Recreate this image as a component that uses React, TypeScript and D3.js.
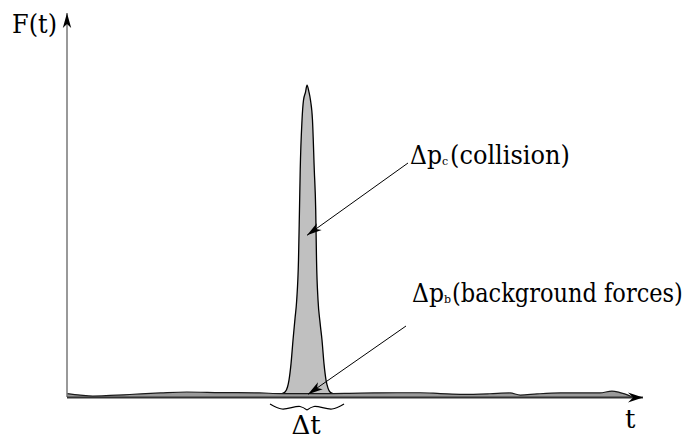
import React, { useLayoutEffect, useRef, useState } from "react";
import * as d3 from "d3";

// Background forces curve (t, F)
const bgT = [0, 2.3, 4.5, 7.5, 10.9, 16.2, 20.8, 26.6, 33.5, 37.3, 46.2, 49.0, 53.3, 57.3, 61.3, 64.8, 68.8, 73.4, 76.9, 78.7, 81.6, 85.6, 89.1, 92.5, 94.6, 96.0, 97.4, 98.1];
const bgF = [0.9, 0.5, 0.25, 0.4, 0.65, 1.05, 1.3, 1.15, 1.05, 0.9, 0.9, 0.95, 1.05, 1.1, 1.1, 0.9, 0.7, 0.85, 1.05, 0.5, 0.8, 1.05, 1.05, 1.05, 1.55, 1.15, 0.5, 0];

// Collision peak (t, F)
const peakT = [37.33, 37.85, 38.28, 38.54, 38.89, 39.24, 39.58, 39.88, 40.19, 40.36, 40.49, 40.8, 41.06, 41.41, 41.67, 42.01, 42.27, 42.62, 42.93, 43.18, 43.32, 43.58, 43.92, 44.27, 44.62, 44.97, 45.31, 45.66, 46.18];
const peakF = [0.9, 1.3, 2.6, 4.4, 8.6, 14.8, 20.3, 25.2, 35.6, 48.6, 59.0, 71.9, 77.1, 79.2, 81.0, 79.2, 77.1, 71.9, 59.0, 48.6, 35.6, 25.2, 19.5, 14.8, 8.6, 4.4, 2.3, 1.3, 0.9];

const axisLabels = ["F(t)", "t", "Δt"];
const collisionLabel = { main: "Δp", sub: "c", rest: "(collision)" };
const backgroundLabel = { main: "Δp", sub: "b", rest: "(background forces)" };

const W = 689;
const H = 439;

const font = "DejaVu Serif, serif";
const textStyle = { fontFamily: font, fontSize: 26, fill: "#000" } as React.CSSProperties;
const subStyle = { fontFamily: font, fontSize: 11, fill: "#000" } as React.CSSProperties;

function FitText({ x, y, width, style, children }: { x: number; y: number; width: number; style: React.CSSProperties; children: React.ReactNode }) {
  const ref = useRef<SVGTextElement>(null);
  const [s, setS] = useState(0.82);
  useLayoutEffect(() => {
    if (ref.current) {
      const len = ref.current.getComputedTextLength();
      if (len > 0) setS(width / len);
    }
  }, [width]);
  return (
    <g transform={`translate(${x},${y}) scale(${s},1)`}>
      <text ref={ref} x={0} y={0} style={style}>{children}</text>
    </g>
  );
}

function Label({ lx, ly, lab, restLen }: { lx: number; ly: number; lab: typeof collisionLabel; restLen: number }) {
  return (
    <g>
      <FitText x={lx} y={ly} width={32} style={textStyle}>{lab.main}</FitText>
      <text x={lx + 32} y={ly + 1} style={subStyle}>{lab.sub}</text>
      <FitText x={lx + 40} y={ly} width={restLen} style={textStyle}>{lab.rest}</FitText>
    </g>
  );
}

export default function App() {
  const x = d3.scaleLinear().domain([0, 100]).range([67, 643]);
  const y = d3.scaleLinear().domain([0, 100]).range([397, 12]);

  const bgData = bgT.map((t, i) => ({ t, f: bgF[i] }));
  const peakData = peakT.map((t, i) => ({ t, f: peakF[i] }));

  const area = d3
    .area<{ t: number; f: number }>()
    .x((d) => x(d.t))
    .y0(y(0))
    .y1((d) => y(d.f))
    .curve(d3.curveMonotoneX);
  const line = d3
    .line<{ t: number; f: number }>()
    .x((d) => x(d.t))
    .y((d) => y(d.f))
    .curve(d3.curveMonotoneX);

  const [x0, x1] = x.range();
  const [yb, yt] = y.range();

  const peakIdx = d3.maxIndex(peakF);
  const cx = x(peakT[peakIdx]);
  const b = yb + 7;
  const braceLine = d3.line<[number, number]>().curve(d3.curveCatmullRom.alpha(0.5));
  const leftHalf: [number, number][] = [
    [cx - 37, b],
    [cx - 25, b + 5],
    [cx - 7, b + 2.5],
    [cx, b + 6],
  ];
  const rightHalf: [number, number][] = leftHalf.map(([px, py]) => [2 * cx - px, py]);

  const collTip: [number, number] = [cx, y(42)];
  const collStart: [number, number] = [408, 163];
  const bgTip: [number, number] = [cx + 1, y(0.7)];
  const bgStart: [number, number] = [406, 326];

  return (
    <svg
      width={W}
      height={H}
      style={{ position: "absolute", left: 0, top: 0, display: "block", background: "#fff" }}
    >
      <defs>
        <marker id="ah" markerUnits="userSpaceOnUse" markerWidth={20} markerHeight={12}
          viewBox="-16 -6 17 12" refX={0} refY={0} orient="auto">
          <path d="M0,0 L-15,-4.2 L-11,0 L-15,4.2 Z" fill="#000" />
        </marker>
        <marker id="axh" markerUnits="userSpaceOnUse" markerWidth={20} markerHeight={14}
          viewBox="-16 -7 17 14" refX={0} refY={0} orient="auto">
          <path d="M0,0 L-15,-5 L-10,0 L-15,5 Z" fill="#000" />
        </marker>
      </defs>

      <path d={area(peakData) || ""} fill="#c0c0c0" stroke="none" />
      <path d={line(peakData) || ""} fill="none" stroke="#000" strokeWidth={1.3} />

      <path d={area(bgData) || ""} fill="#9a9a9a" stroke="none" />
      <path d={line(bgData) || ""} fill="none" stroke="#1a1a1a" strokeWidth={1.2} />

      <line x1={x0} y1={yb} x2={x0} y2={yt + 1} stroke="#777" strokeWidth={1.5} markerEnd="url(#ah)" />
      <line x1={x0} y1={yb + 0.5} x2={x1} y2={yb + 0.5} stroke="#333" strokeWidth={1.8} markerEnd="url(#axh)" />

      <path d={braceLine(leftHalf) || ""} fill="none" stroke="#000" strokeWidth={1.2} />
      <path d={braceLine(rightHalf) || ""} fill="none" stroke="#000" strokeWidth={1.2} />

      <line x1={collStart[0]} y1={collStart[1]} x2={collTip[0]} y2={collTip[1]} stroke="#000" strokeWidth={1} markerEnd="url(#ah)" />
      <line x1={bgStart[0]} y1={bgStart[1]} x2={bgTip[0]} y2={bgTip[1]} stroke="#000" strokeWidth={1} markerEnd="url(#ah)" />

      <FitText x={12} y={33} width={45} style={textStyle}>{axisLabels[0]}</FitText>
      <text x={625} y={428} style={textStyle}>{axisLabels[1]}</text>
      <text x={cx - 1} y={434} textAnchor="middle" style={textStyle}>{axisLabels[2]}</text>
      <Label lx={410} ly={164} lab={collisionLabel} restLen={120} />
      <Label lx={412} ly={302} lab={backgroundLabel} restLen={231} />
    </svg>
  );
}
